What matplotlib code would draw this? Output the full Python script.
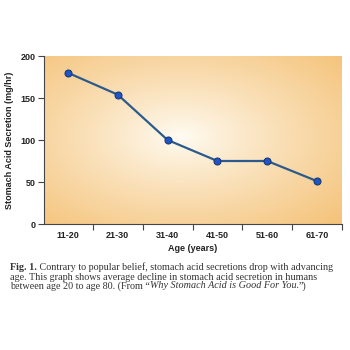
import numpy as np
import matplotlib.pyplot as plt

ages = ["11-20", "21-30", "31-40", "41-50", "51-60", "61-70"]
secretion = [180, 154, 100, 75, 75, 51]
yticks = [0, 50, 100, 150, 200]

fig = plt.figure(figsize=(3.5, 3.5), dpi=100)
ax = fig.add_axes([44 / 350, 1 - 224 / 350, 298 / 350, 168 / 350])

# radial background: pale center fading to orange at the edges
gx, gy = np.meshgrid(np.linspace(0, 1, 300), np.linspace(0, 1, 200))
r = np.sqrt(((gx - 0.46) / 0.72) ** 2 + ((gy - 0.52) / 0.72) ** 2)
r = np.clip(r, 0, 1) ** 0.85
c0 = np.array([1.0, 0.99, 0.96])
c1 = np.array([0.96, 0.77, 0.49])
bg = c0 + (c1 - c0) * r[..., None]
ax.imshow(bg, extent=[0, 1, 0, 1], transform=ax.transAxes, aspect="auto",
          origin="lower", zorder=0)

x = np.arange(len(ages))
ax.plot(x, secretion, color="#2b5b8c", linewidth=1.6, zorder=2)
ax.plot(x, secretion, "o", markersize=5, markerfacecolor="#1f55c8",
        markeredgecolor="#1b3a70", markeredgewidth=0.8, zorder=3)

ax.set_xlim(-0.48, len(ages) - 0.52)
ax.set_ylim(0, 200)
ax.set_yticks(yticks)
ax.set_xticks(x + 0.5, minor=False)
ax.set_xticks(x, minor=True)
ax.set_xticklabels([])
ax.set_xticklabels(ages, minor=True)
ax.tick_params(axis="x", which="major", length=4, width=0.8, color="#444444")
ax.tick_params(axis="x", which="minor", length=0, pad=5)
ax.tick_params(axis="y", length=4, width=0.8, color="#444444", pad=2)

font = "Liberation Sans"
for lab in ax.get_xticklabels(minor=True) + ax.get_yticklabels():
    lab.set_fontfamily(font)
    lab.set_fontweight("bold")
    lab.set_fontsize(6.5)
    lab.set_color("#222222")

for side in ["top", "right"]:
    ax.spines[side].set_visible(False)
for side in ["left", "bottom"]:
    ax.spines[side].set_color("#444444")
    ax.spines[side].set_linewidth(0.8)

ax.set_xlabel("Age (years)", fontfamily=font, fontweight="bold", fontsize=6.5,
              color="#222222", labelpad=3)
ax.set_ylabel("Stomach Acid Secretion (mg/hr)", fontfamily=font,
              fontweight="bold", fontsize=6.5, color="#222222", labelpad=5)

# caption, pieced together so bold/italic runs line up
serif = "Liberation Serif"
fig.canvas.draw()
renderer = fig.canvas.get_renderer()
caption = [
    [("Fig. 1.", "bold", "normal"),
     (" Contrary to popular belief, stomach acid secretions drop with advancing", "normal", "normal")],
    [("age. This graph shows average decline in stomach acid secretion in humans", "normal", "normal")],
    [("between age 20 to age 80. (From \u201c", "normal", "normal"),
     ("Why Stomach Acid is Good For You.", "normal", "italic"),
     ("\u201d)", "normal", "normal")],
]
y0 = 1 - 270.5 / 350
for i, line in enumerate(caption):
    xpos = 10 / 350
    for txt, weight, style in line:
        t = fig.text(xpos, y0 - i * 9 / 350, txt, fontfamily=serif,
                     fontweight=weight, fontstyle=style, fontsize=7.3,
                     color="#333333", va="baseline")
        bb = t.get_window_extent(renderer=renderer)
        xpos += bb.width / fig.bbox.width

fig.savefig("out.png", dpi=100)
